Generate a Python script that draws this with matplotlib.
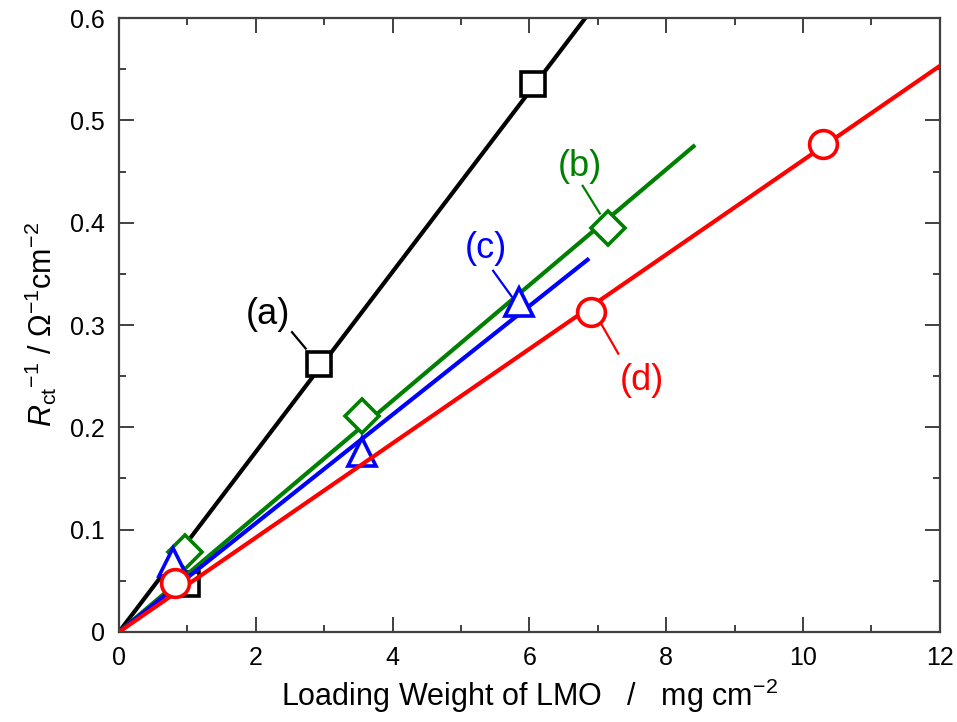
import numpy as np
import matplotlib.pyplot as plt
from matplotlib.ticker import MultipleLocator

plt.rcParams['font.family'] = ['Liberation Sans', 'DejaVu Sans']
plt.rcParams['mathtext.fontset'] = 'custom'
plt.rcParams['mathtext.rm'] = 'Liberation Sans'
plt.rcParams['mathtext.it'] = 'Liberation Sans:italic'

# loading weight (mg cm-2) and inverse charge-transfer resistance
x_a = [0.99, 2.92, 6.05]
y_a = [0.047, 0.262, 0.536]
x_b = [0.96, 3.55, 7.15]
y_b = [0.078, 0.211, 0.395]
x_c = [0.79, 3.55, 5.85]
y_c = [0.068, 0.176, 0.322]
x_d = [0.82, 6.90, 10.29]
y_d = [0.048, 0.313, 0.477]

# linear fits through the origin
slopes = [0.0880, 0.0565, 0.0531, 0.0461]
fit_end = [7.0, 8.4, 6.85, 12.0]

labels = ['(a)', '(b)', '(c)', '(d)']
colors = ['black', '#008000', '#0000ff', '#ff0000']
markers = ['s', 'D', '^', 'o']
msizes = [17, 17, 20, 20]

# label text position, leader line start and end
label_xy = [(2.18, 0.31), (6.74, 0.455), (5.37, 0.375), (7.65, 0.246)]
leader = [((2.53, 0.293), (2.73, 0.277)),
          ((6.78, 0.436), (7.03, 0.409)),
          ((5.47, 0.353), (5.74, 0.328)),
          ((7.06, 0.300), (7.30, 0.272))]

fig = plt.figure(figsize=(9.57, 7.22), dpi=100)
ax = fig.add_axes([0.1243, 0.1247, 0.8577, 0.8503])

series = [(x_a, y_a), (x_b, y_b), (x_c, y_c), (x_d, y_d)]
for i, (xs, ys) in enumerate(series):
    xf = np.linspace(0, fit_end[i], 50)
    ax.plot(xf, slopes[i] * xf, color=colors[i], lw=3, zorder=2 + 2 * i)
    ax.plot(xs, ys, ls='none', marker=markers[i], ms=msizes[i],
            mfc='white', mec=colors[i], mew=2.6, zorder=3 + 2 * i)
    (x0, y0), (x1, y1) = leader[i]
    ax.plot([x0, x1], [y0, y1], color=colors[i], lw=1.6, zorder=2 + 2 * i)
    ax.text(label_xy[i][0], label_xy[i][1], labels[i], color=colors[i],
            fontsize=26, ha='center', va='center')

ax.set_xlim(0, 12)
ax.set_ylim(0, 0.6)
ax.set_xticks([0, 2, 4, 6, 8, 10, 12])
ax.set_xticklabels(['0', '2', '4', '6', '8', '10', '12'])
ax.set_yticks([0, 0.1, 0.2, 0.3, 0.4, 0.5, 0.6])
ax.set_yticklabels(['0', '0.1', '0.2', '0.3', '0.4', '0.5', '0.6'])
ax.xaxis.set_minor_locator(MultipleLocator(1))
ax.yaxis.set_minor_locator(MultipleLocator(0.05))

ax.tick_params(which='both', direction='in', top=True, right=True,
               color='#404040', labelsize=18, pad=10)
ax.tick_params(which='major', length=11, width=1.4)
ax.tick_params(which='minor', length=5, width=1.4)
for s in ax.spines.values():
    s.set_color('#404040')
    s.set_linewidth(1.6)

ax.set_xlabel('Loading Weight of LMO   /   mg cm$^{\\mathregular{-2}}$',
              fontsize=22, labelpad=5)
ax.set_ylabel('$R_{\\mathrm{ct}}$$^{\\mathregular{-1}}$ / '
              '$\\Omega^{\\mathregular{-1}}$cm$^{\\mathregular{-2}}$',
              fontsize=22, labelpad=8)

fig.savefig('out.png', dpi=100)
